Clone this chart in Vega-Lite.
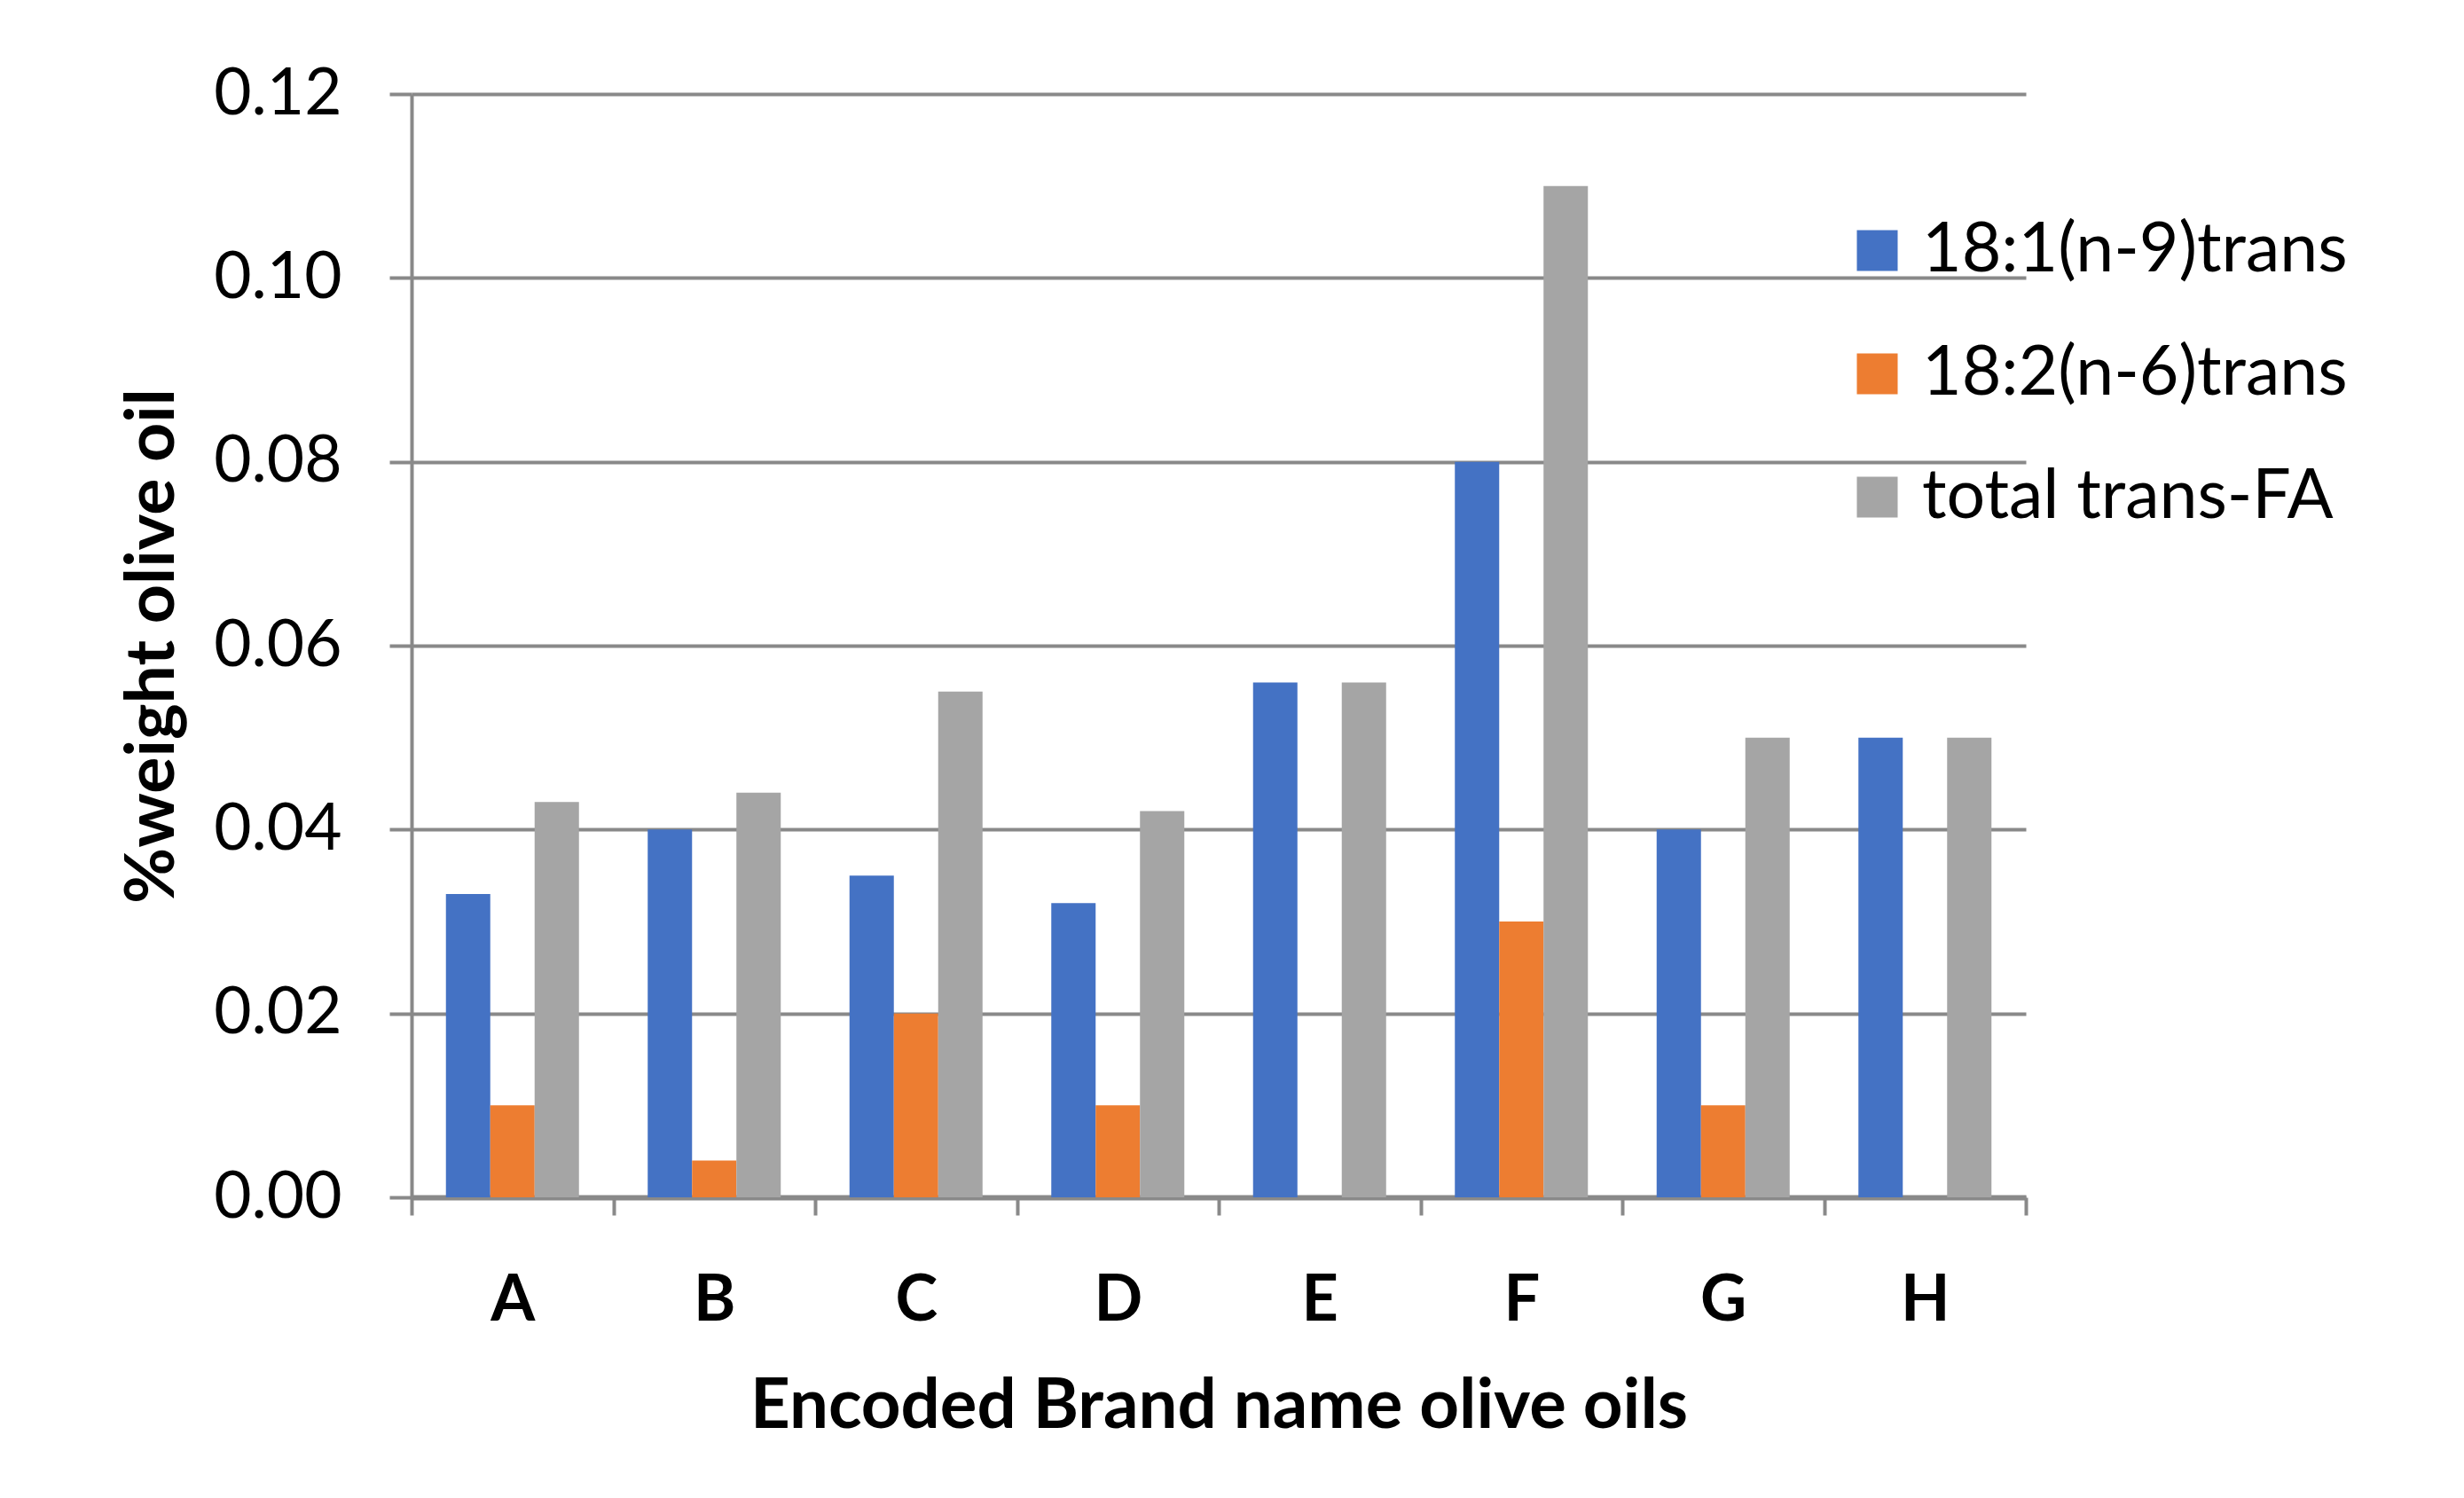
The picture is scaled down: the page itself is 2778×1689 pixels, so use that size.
{
  "$schema": "https://vega.github.io/schema/vega-lite/v6.json",
  "width": 1820,
  "height": 1244,
  "autosize": {"type": "none"},
  "padding": {"left": 464, "top": 106, "right": 494, "bottom": 339},
  "background": "white",
  "config": {"view": {"stroke": null}, "font": "Lato"},
  "data": {
    "values": [
      {"brand": "A", "series": "18:1(n-9)trans", "value": 0.033},
      {"brand": "A", "series": "18:2(n-6)trans", "value": 0.01},
      {"brand": "A", "series": "total trans-FA", "value": 0.043},
      {"brand": "B", "series": "18:1(n-9)trans", "value": 0.04},
      {"brand": "B", "series": "18:2(n-6)trans", "value": 0.004},
      {"brand": "B", "series": "total trans-FA", "value": 0.044},
      {"brand": "C", "series": "18:1(n-9)trans", "value": 0.035},
      {"brand": "C", "series": "18:2(n-6)trans", "value": 0.02},
      {"brand": "C", "series": "total trans-FA", "value": 0.055},
      {"brand": "D", "series": "18:1(n-9)trans", "value": 0.032},
      {"brand": "D", "series": "18:2(n-6)trans", "value": 0.01},
      {"brand": "D", "series": "total trans-FA", "value": 0.042},
      {"brand": "E", "series": "18:1(n-9)trans", "value": 0.056},
      {"brand": "E", "series": "total trans-FA", "value": 0.056},
      {"brand": "F", "series": "18:1(n-9)trans", "value": 0.08},
      {"brand": "F", "series": "18:2(n-6)trans", "value": 0.03},
      {"brand": "F", "series": "total trans-FA", "value": 0.11},
      {"brand": "G", "series": "18:1(n-9)trans", "value": 0.04},
      {"brand": "G", "series": "18:2(n-6)trans", "value": 0.01},
      {"brand": "G", "series": "total trans-FA", "value": 0.05},
      {"brand": "H", "series": "18:1(n-9)trans", "value": 0.05},
      {"brand": "H", "series": "total trans-FA", "value": 0.05}
    ]
  },
  "mark": {"type": "bar"},
  "encoding": {
    "x": {
      "field": "brand",
      "type": "nominal",
      "scale": {"paddingInner": 0, "paddingOuter": 0},
      "axis": {
        "title": "Encoded Brand name olive oils",
        "labelAngle": 0,
        "tickBand": "extent",
        "tickSize": 20,
        "tickWidth": 4,
        "tickColor": "#898989",
        "domainColor": "#898989",
        "domainWidth": 6,
        "labelFont": "Lato",
        "labelFontWeight": "bold",
        "labelFontSize": 72,
        "labelColor": "black",
        "labelBaseline": "alphabetic",
        "labelPadding": 118,
        "titleFont": "Lato",
        "titleFontSize": 78,
        "titleFontWeight": "bold",
        "titleColor": "black",
        "titleBaseline": "alphabetic",
        "titleY": 259,
        "titleX": 910
      }
    },
    "xOffset": {
      "field": "series",
      "type": "nominal",
      "scale": {
        "domain": ["18:1(n-9)trans", "18:2(n-6)trans", "total trans-FA"],
        "paddingInner": 0,
        "paddingOuter": 0.775
      }
    },
    "y": {
      "field": "value",
      "type": "quantitative",
      "scale": {"domain": [0, 0.12]},
      "axis": {
        "values": [0, 0.02, 0.04, 0.06, 0.08, 0.1, 0.12],
        "format": ".2f",
        "title": "%weight olive oil",
        "tickSize": 25,
        "tickWidth": 4,
        "tickColor": "#898989",
        "domainColor": "#898989",
        "domainWidth": 4,
        "grid": true,
        "gridColor": "#898989",
        "gridWidth": 4,
        "labelFont": "Lato",
        "labelFontSize": 73,
        "labelColor": "black",
        "labelPadding": 54,
        "titleFont": "Lato",
        "titleFontSize": 77,
        "titleFontWeight": "bold",
        "titleColor": "black",
        "titleAngle": -90,
        "titleBaseline": "middle",
        "titleAlign": "center",
        "titleX": -292,
        "titleY": 622
      }
    },
    "color": {
      "field": "series",
      "type": "nominal",
      "scale": {
        "domain": ["18:1(n-9)trans", "18:2(n-6)trans", "total trans-FA"],
        "range": ["#4472C4", "#ED7D31", "#A5A5A5"]
      },
      "legend": {
        "orient": "none",
        "legendX": 1614,
        "legendY": 138,
        "title": null,
        "labelFont": "Lato",
        "labelFontSize": 77,
        "labelColor": "black",
        "labelLimit": 1000,
        "labelOffset": 12,
        "symbolType": "square",
        "symbolSize": 2116,
        "symbolStrokeWidth": 0,
        "rowPadding": 61
      }
    }
  }
}
